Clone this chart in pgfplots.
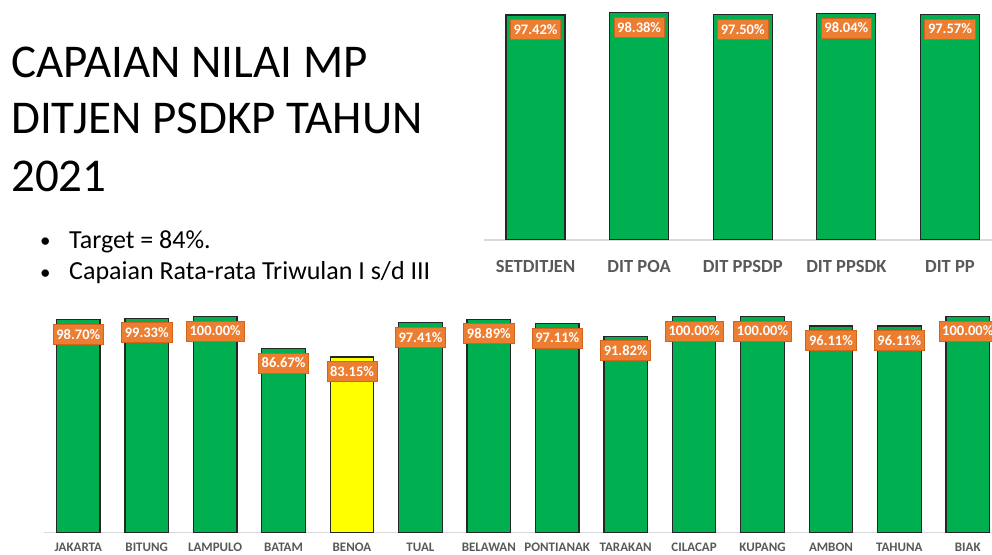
\documentclass[border=0pt]{standalone}
\usepackage{fontspec}
\setmainfont{Carlito}
\usepackage{pgfplots}
\pgfplotsset{compat=1.18}
\definecolor{barG}{HTML}{00B050}
\definecolor{barY}{HTML}{FFFF00}
\definecolor{lblO}{HTML}{ED7D31}
\definecolor{lblB}{HTML}{D0661E}
\definecolor{tickG}{HTML}{595959}
\definecolor{baseL}{HTML}{D9D9D9}
\pgfplotsset{
  mybars/.style={
    ybar, axis x line=bottom, axis y line=none,
    axis line style={-, draw=baseL, line width=1.2pt},
    xmin=-0.5, major tick length=0pt, ytick=\empty, xtick=data,
    /pgf/number format/assume math mode=true,
    nodes near coords={\pgfmathprintnumber[fixed,fixed zerofill,precision=2,assume math mode=true]{\pgfplotspointmeta}\%},
    every node near coord/.append style={anchor=north, yshift=-4pt, fill=lblO, draw=lblB, line width=0.7pt,
      text=white, font=\bfseries\fontsize{14.5}{16}\selectfont, inner xsep=3.2pt, inner ysep=0pt, minimum height=20pt},
  },
}
\begin{document}
\begin{tikzpicture}
\useasboundingbox (0,0) rectangle (992pt,554pt);
% title
\node[anchor=base west, inner sep=0, font=\fontsize{47}{54}\selectfont] at (11pt,476pt) {CAPAIAN NILAI MP};
\node[anchor=base west, inner sep=0, font=\fontsize{47}{54}\selectfont] at (11pt,420.7pt) {DITJEN PSDKP TAHUN};
\node[anchor=base west, inner sep=0, font=\fontsize{47}{54}\selectfont] at (11pt,362.3pt) {2021};
\node[anchor=base west, inner sep=0, font=\fontsize{21}{30}\selectfont] at (40pt,306.5pt) {•};
\node[anchor=base west, inner sep=0, font=\fontsize{26}{30}\selectfont] at (69pt,305.7pt) {Target = 84\%.};
\node[anchor=base west, inner sep=0, font=\fontsize{21}{30}\selectfont] at (40pt,274.8pt) {•};
\node[anchor=base west, inner sep=0, font=\fontsize{26}{30}\selectfont] at (69pt,274pt) {Capaian Rata-rata Triwulan I s/d III};
% top chart
\begin{axis}[mybars,
  at={(483.7pt,314pt)}, anchor=south west, scale only axis,
  width=508.3pt, height=240pt, xmax=4.406, ymin=0, ymax=103.9,
  bar width=59pt,
  xticklabels={SETDITJEN,DIT POA,DIT PPSDP,DIT PPSDK,DIT PP},
  xticklabel style={anchor=base, yshift=-32.7pt, text=tickG, font=\bfseries\fontsize{18.5}{20}\selectfont},
]
\addplot[fill=barG, draw=black!85, line width=1.2pt, bar shift=0pt] coordinates {(0,97.42) (1,98.38) (2,97.50) (3,98.04) (4,97.57)};
\end{axis}
% bottom chart
\begin{axis}[mybars,
  at={(44.1pt,21.7pt)}, anchor=south west, scale only axis,
  width=947.9pt, height=232.3pt, xmax=13.354, ymin=10, ymax=106.95,
  bar width=43.5pt,
  xtick={0,...,13},
  xticklabels={JAKARTA,BITUNG,LAMPULO,BATAM,BENOA,TUAL,BELAWAN,PONTIANAK,TARAKAN,CILACAP,KUPANG,AMBON,TAHUNA,BIAK},
  xticklabel style={anchor=base, yshift=-19pt, text=tickG, font=\bfseries\fontsize{13}{15}\selectfont},
]
\addplot[fill=barG, draw=black!85, line width=1.2pt, bar shift=0pt] coordinates {(0,98.70) (1,99.33) (2,100.00) (3,86.67) (5,97.41) (6,98.89) (7,97.11) (8,91.82) (9,100.00) (10,100.00) (11,96.11) (12,96.11) (13,100.00)};
\addplot[fill=barY, draw=black!85, line width=1.2pt, bar shift=0pt] coordinates {(4,83.15)};
\end{axis}
\end{tikzpicture}
\end{document}
